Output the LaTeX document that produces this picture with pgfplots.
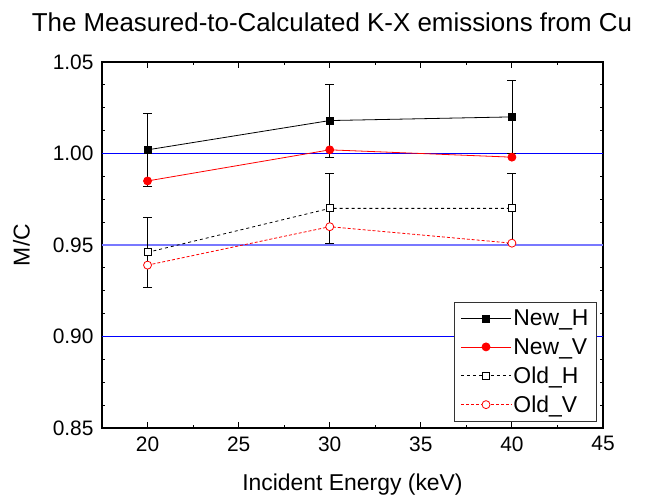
\documentclass[border=0pt]{standalone}
\usepackage{pgfplots}
\pgfplotsset{compat=1.18}
\usepackage{fontspec}
\setmainfont{Liberation Sans}
\definecolor{refblue}{RGB}{0,0,255}
\definecolor{lightblue}{RGB}{120,120,255}
\definecolor{refred}{RGB}{255,0,0}

\begin{document}
\begin{tikzpicture}
\begin{axis}[
  scale only axis, width=501bp, height=366bp,
  xmin=17.5, xmax=45, ymin=0.85, ymax=1.05,
  xtick={20,25,...,45}, minor x tick num=1,
  ytick={0.85,0.90,...,1.06}, minor y tick num=3,
  tick align=inside, tick pos=both,
  major tick length=6bp, minor tick length=3.5bp,
  axis line style={line width=1.2bp}, every tick/.style={black, line width=0.9bp},
  /pgf/number format/.cd, fixed, fixed zerofill, precision=2, assume math mode=true,
  /pgfplots/.cd,
  xticklabel style={/pgf/number format/precision=0, /pgf/number format/fixed zerofill=false, yshift=-5bp},
  yticklabel style={xshift=-5bp},
  tick label style={font=\fontsize{21}{24}\selectfont},
  label style={font=\fontsize{23}{27}\selectfont},
  xlabel={Incident Energy (keV)}, ylabel={M/C},
  xlabel style={yshift=-16bp}, ylabel style={yshift=16bp},
  title={The Measured-to-Calculated K-X emissions from Cu},
  title style={font=\fontsize{26}{30}\selectfont, at={(0.459,1)}, yshift=21bp},
  legend style={at={(0.988,0.016)}, anchor=south east, font=\fontsize{23}{27}\selectfont,
    draw=black!80, line width=0.9bp, row sep=7bp, inner xsep=6bp, inner ysep=6bp},
  legend cell align=left,
  legend image code/.code={\draw[mark repeat=2,mark phase=2] plot coordinates {(0bp,0bp)(25bp,0bp)(50bp,0bp)};},
  error bars/error bar style={black, solid, line width=0.7bp},
  error bars/error mark options={rotate=90, mark size=4.5bp, line width=0.7bp, black, solid},
]
% reference lines
\addplot[refblue, line width=1.2bp, forget plot] coordinates {(17.5,1.00)(45,1.00)};
\addplot[lightblue, line width=1.6bp, forget plot] coordinates {(17.5,0.95)(45,0.95)};
\addplot[refblue, line width=1.2bp, forget plot] coordinates {(17.5,0.90)(45,0.90)};

\addplot[black, line width=0.8bp, mark=square*, mark size=3.5bp,
  error bars/.cd, y dir=both, y explicit]
  coordinates {(20,1.002) +- (0,0.020) (30,1.018) +- (0,0.020) (40,1.020) +- (0,0.020)};
\addlegendentry{New\_H}
\addplot[refred, line width=0.8bp, mark=*, mark size=4bp]
  coordinates {(20,0.985) (30,1.002) (40,0.998)};
\addlegendentry{New\_V}
\addplot[black, line width=0.8bp, dashed, mark=square*, mark size=3.5bp,
  mark options={solid, fill=white},
  error bars/.cd, y dir=both, y explicit]
  coordinates {(20,0.946) +- (0,0.019) (30,0.970) +- (0,0.019) (40,0.970) +- (0,0.019)};
\addlegendentry{Old\_H}
\addplot[refred, line width=0.8bp, densely dashed, mark=*, mark size=4bp,
  mark options={solid, fill=white}]
  coordinates {(20,0.939) (30,0.960) (40,0.951)};
\addlegendentry{Old\_V}
\end{axis}
\pgfresetboundingbox
\path[use as bounding box] ([xshift=-102bp,yshift=-70bp]current axis.south west)
  rectangle ([xshift=45bp,yshift=62bp]current axis.north east);
\end{tikzpicture}
\end{document}
